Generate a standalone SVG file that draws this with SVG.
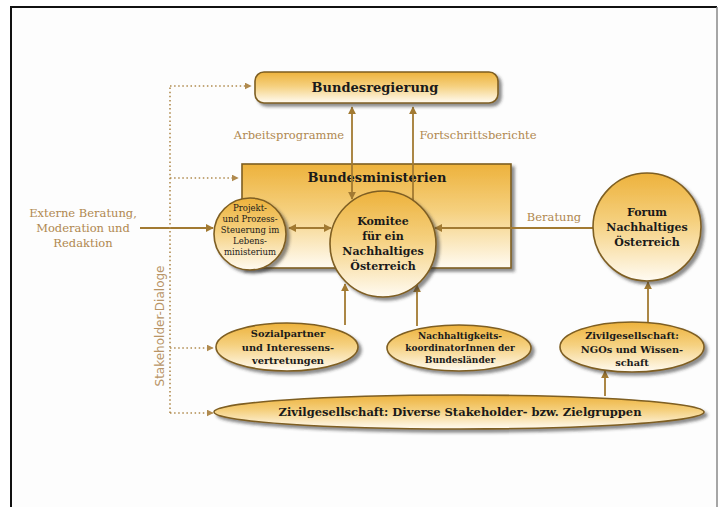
<svg xmlns="http://www.w3.org/2000/svg" width="718" height="507" viewBox="0 0 718 507">
<defs>
<linearGradient id="gold" x1="0" y1="0" x2="0" y2="1">
<stop offset="0" stop-color="#EDB23C"/>
<stop offset="0.45" stop-color="#F5D07E"/>
<stop offset="1" stop-color="#FFFBF2"/>
</linearGradient>
<filter id="sh" x="-10%" y="-10%" width="125%" height="130%">
<feDropShadow dx="3" dy="3" stdDeviation="1.6" flood-color="#333" flood-opacity="0.55"/>
</filter>
<marker id="ah" viewBox="0 0 10 10" refX="9" refY="5" markerWidth="8" markerHeight="8" markerUnits="userSpaceOnUse" orient="auto-start-reverse">
<path d="M0,0 L10,5 L0,10 z" fill="#A27A32"/>
</marker>
<marker id="ahd" viewBox="0 0 10 10" refX="9" refY="5" markerWidth="7" markerHeight="7" markerUnits="userSpaceOnUse" orient="auto">
<path d="M0,0 L10,5 L0,10 z" fill="#B08A4E"/>
</marker>
<style>
.node{fill:url(#gold);stroke:#7E5E22;stroke-width:1.6;filter:url(#sh)}
.t{font-family:"DejaVu Serif",serif;font-weight:bold;fill:#1A1A1A;text-anchor:middle}
.tn{font-family:"DejaVu Serif",serif;font-weight:normal;fill:#1A1A1A;text-anchor:middle;font-size:8.5px}
.lab{font-family:"DejaVu Serif",serif;fill:#B0884F;text-anchor:middle}
.con{stroke:#A27A32;stroke-width:1.8;fill:none}
.dot{stroke:#B08A4E;stroke-width:1.6;fill:none;stroke-dasharray:1.5 2.6}
</style>
</defs>
<rect x="0" y="0" width="718" height="507" fill="#FFFFFF"/>
<rect x="11" y="7" width="706" height="500" fill="#FDFDFD"/>
<line x1="10" y1="7" x2="717" y2="7" stroke="#111" stroke-width="2"/>
<line x1="11" y1="6" x2="11" y2="507" stroke="#111" stroke-width="2"/>
<line x1="717" y1="7" x2="717" y2="507" stroke="#888" stroke-width="1.5"/>

<g id="bundesministerien">
<rect class="node" x="242" y="164" width="269" height="104"/>
<text class="t" x="377" y="182" font-size="13">Bundesministerien</text>
</g>

<g id="connectors">
<line class="con" x1="352" y1="107" x2="352" y2="199" marker-start="url(#ah)" marker-end="url(#ah)"/>
<line class="con" x1="413" y1="201" x2="413" y2="107" marker-end="url(#ah)"/>
<line class="con" x1="140" y1="228" x2="213" y2="228" marker-end="url(#ah)"/>
<line class="con" x1="289" y1="228" x2="331" y2="228" marker-start="url(#ah)" marker-end="url(#ah)"/>
<line class="con" x1="593" y1="228" x2="435" y2="228" marker-end="url(#ah)"/>
<line class="con" x1="345" y1="325" x2="345" y2="284" marker-end="url(#ah)"/>
<line class="con" x1="417" y1="326" x2="417" y2="285" marker-end="url(#ah)"/>
<line class="con" x1="648" y1="322" x2="648" y2="282" marker-end="url(#ah)"/>
<line class="con" x1="605" y1="396" x2="605" y2="371" marker-end="url(#ah)"/>
<path class="dot" d="M170,413 L170,86"/>
<line class="dot" x1="170" y1="86" x2="251" y2="86" marker-end="url(#ahd)"/>
<line class="dot" x1="170" y1="178" x2="238" y2="178" marker-end="url(#ahd)"/>
<line class="dot" x1="170" y1="348" x2="213" y2="348" marker-end="url(#ahd)"/>
<line class="dot" x1="170" y1="413" x2="213" y2="413" marker-end="url(#ahd)"/>
</g>

<g id="labels">
<text class="lab" x="289" y="139" font-size="11.5">Arbeitsprogramme</text>
<text class="lab" x="478" y="139" font-size="11.5">Fortschrittsberichte</text>
<text class="lab" x="554" y="221" font-size="11.5">Beratung</text>
<text class="lab" x="83" y="217" font-size="11.5">Externe Beratung,</text>
<text class="lab" x="83" y="232" font-size="11.5">Moderation und</text>
<text class="lab" x="83" y="247" font-size="11.5">Redaktion</text>
<text x="0" y="0" transform="translate(164,326) rotate(-90)" font-family="'DejaVu Sans',sans-serif" font-size="12" fill="#B89466" text-anchor="middle">Stakeholder-Dialoge</text>
</g>

<g id="bundesregierung">
<rect class="node" x="255" y="72" width="243" height="31" rx="9"/>
<text class="t" x="375" y="92" font-size="13">Bundesregierung</text>
</g>

<g id="projekt">
<circle class="node" cx="250" cy="234" r="36"/>
<text class="tn" x="250" y="211">Projekt-</text>
<text class="tn" x="250" y="222">und Prozess-</text>
<text class="tn" x="250" y="233">Steuerung im</text>
<text class="tn" x="250" y="244">Lebens-</text>
<text class="tn" x="250" y="255">ministerium</text>
</g>

<g id="komitee">
<circle class="node" cx="383" cy="244" r="53"/>
<text class="t" x="383" y="225" font-size="11">Komitee</text>
<text class="t" x="383" y="240" font-size="11">für ein</text>
<text class="t" x="383" y="255" font-size="11">Nachhaltiges</text>
<text class="t" x="383" y="270" font-size="11">Österreich</text>
</g>

<g id="forum">
<circle class="node" cx="647" cy="227" r="54"/>
<text class="t" x="647" y="216" font-size="11">Forum</text>
<text class="t" x="647" y="231" font-size="11">Nachhaltiges</text>
<text class="t" x="647" y="246" font-size="11">Österreich</text>
</g>

<g id="sozialpartner">
<ellipse class="node" cx="287" cy="347" rx="71" ry="24"/>
<text class="t" x="288" y="337" font-size="9.8">Sozialpartner</text>
<text class="t" x="288" y="351" font-size="9.8">und Interessens-</text>
<text class="t" x="288" y="364" font-size="9.8">vertretungen</text>
</g>

<g id="nachhaltigkeitskoordinatoren">
<ellipse class="node" cx="459" cy="348" rx="72" ry="23"/>
<text class="t" x="460" y="339" font-size="9">Nachhaltigkeits-</text>
<text class="t" x="460" y="351" font-size="9">koordinatorInnen der</text>
<text class="t" x="460" y="363" font-size="9">Bundesländer</text>
</g>

<g id="ngos">
<ellipse class="node" cx="632" cy="347" rx="72" ry="25"/>
<text class="t" x="632" y="339" font-size="9.8">Zivilgesellschaft:</text>
<text class="t" x="632" y="353" font-size="9.8">NGOs und Wissen-</text>
<text class="t" x="632" y="366" font-size="9.8">schaft</text>
</g>

<g id="stakeholder">
<ellipse class="node" cx="459" cy="412" rx="245" ry="17"/>
<text class="t" x="460" y="416" font-size="11.5">Zivilgesellschaft: Diverse Stakeholder- bzw. Zielgruppen</text>
</g>
</svg>
